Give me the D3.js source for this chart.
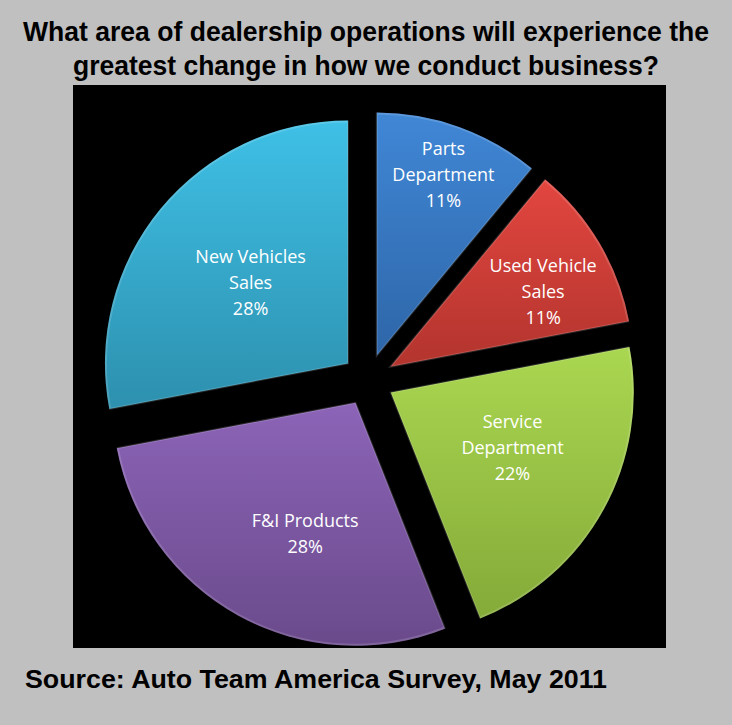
<!DOCTYPE html>
<html>
<head>
<meta charset="utf-8">
<script src="https://cdn.jsdelivr.net/npm/d3@7"></script>
<style>
  body { margin: 0; background: #c0c0c0; }
  svg { display: block; }
</style>
</head>
<body>
<div id="chart"></div>
<script>
// data
const categories = ["Parts Department", "Used Vehicle Sales", "Service Department", "F&I Products", "New Vehicles Sales"];
const labelLines = [["Parts", "Department"], ["Used Vehicle", "Sales"], ["Service", "Department"], ["F&I Products"], ["New Vehicles", "Sales"]];
const values = [11, 11, 22, 28, 28];
const titleLines = ["What area of dealership operations will experience the", "greatest change in how we conduct business?"];
const source = "Source: Auto Team America Survey, May 2011";

// colours top -> bottom of each slice
const topColors = ["#4087d6", "#e2463f", "#aad751", "#8c64b8", "#3fc0e6"];
const bottomColors = ["#2e66a8", "#b3342e", "#84aa38", "#6a4a8b", "#2d90ae"];
// label placement: fraction of radius and angle nudge (degrees) off the bisector
const labelPos = [0.79, 0.70, 0.55, 0.58, 0.52];
const labelTurn = [0.5, 4.5, -4.4, -7.9, 0];

const w = 732, h = 725;
const cx = 368, cy = 380, r = 243, explode = 26;

const svg = d3.select("#chart").append("svg")
  .attr("width", w)
  .attr("height", h);

svg.append("rect").attr("width", w).attr("height", h).attr("fill", "#c0c0c0");

// black plot area
svg.append("rect")
  .attr("x", 73).attr("y", 85)
  .attr("width", 593).attr("height", 563)
  .attr("fill", "#000");

// title
svg.selectAll(".title")
  .data(titleLines)
  .enter()
  .append("text")
  .attr("class", "title")
  .attr("x", w / 2)
  .attr("y", (d, i) => 41 + i * 34)
  .attr("text-anchor", "middle")
  .attr("textLength", (d, i) => i === 0 ? 686 : 586)
  .attr("lengthAdjust", "spacingAndGlyphs")
  .style("font-family", "'Liberation Sans', Arial, sans-serif")
  .style("font-weight", "bold")
  .style("font-size", "27px")
  .text(d => d);

const defs = svg.append("defs");
values.forEach((v, i) => {
  const g = defs.append("linearGradient")
    .attr("id", "grad" + i)
    .attr("x1", 0).attr("y1", 0).attr("x2", 0).attr("y2", 1);
  g.append("stop").attr("offset", "0%").attr("stop-color", topColors[i]);
  g.append("stop").attr("offset", "100%").attr("stop-color", bottomColors[i]);
});

const pie = d3.pie().sort(null).value(d => d);
const arcs = pie(values);
const arc = d3.arc().innerRadius(0).outerRadius(r);

const shift = d => {
  const a = (d.startAngle + d.endAngle) / 2;
  return [Math.sin(a) * explode, -Math.cos(a) * explode];
};

const slices = svg.append("g")
  .attr("transform", `translate(${cx},${cy})`)
  .selectAll("g")
  .data(arcs)
  .enter()
  .append("g")
  .attr("transform", d => `translate(${shift(d)})`);

slices.append("path")
  .attr("d", arc)
  .attr("fill", (d, i) => `url(#grad${i})`);

// soft bevel highlight on the edges
slices.append("path")
  .attr("d", d3.arc().innerRadius(0).outerRadius(r - 1))
  .attr("fill", "none")
  .attr("stroke", "#fff")
  .attr("stroke-opacity", 0.15)
  .attr("stroke-width", 2);

// labels
const labels = slices.append("text")
  .attr("transform", (d, i) => {
    const a = (d.startAngle + d.endAngle) / 2 + labelTurn[i] * Math.PI / 180;
    const lr = r * labelPos[i];
    return `translate(${Math.sin(a) * lr},${-Math.cos(a) * lr})`;
  })
  .attr("text-anchor", "middle")
  .attr("fill", "#fff")
  .style("font-family", "'Open Sans', sans-serif")
  .style("font-size", "18px");

labels.each(function (d, i) {
  const lines = labelLines[i].concat([values[i] + "%"]);
  const t = d3.select(this);
  lines.forEach((l, j) => {
    t.append("tspan")
      .attr("x", 0)
      .attr("y", (j - (lines.length - 1) / 2) * 26 + 6)
      .text(l);
  });
});

// source
svg.append("text")
  .attr("x", 25)
  .attr("y", 688)
  .attr("textLength", 582)
  .attr("lengthAdjust", "spacingAndGlyphs")
  .style("font-family", "'Liberation Sans', Arial, sans-serif")
  .style("font-weight", "bold")
  .style("font-size", "26px")
  .text(source);
</script>
</body>
</html>
